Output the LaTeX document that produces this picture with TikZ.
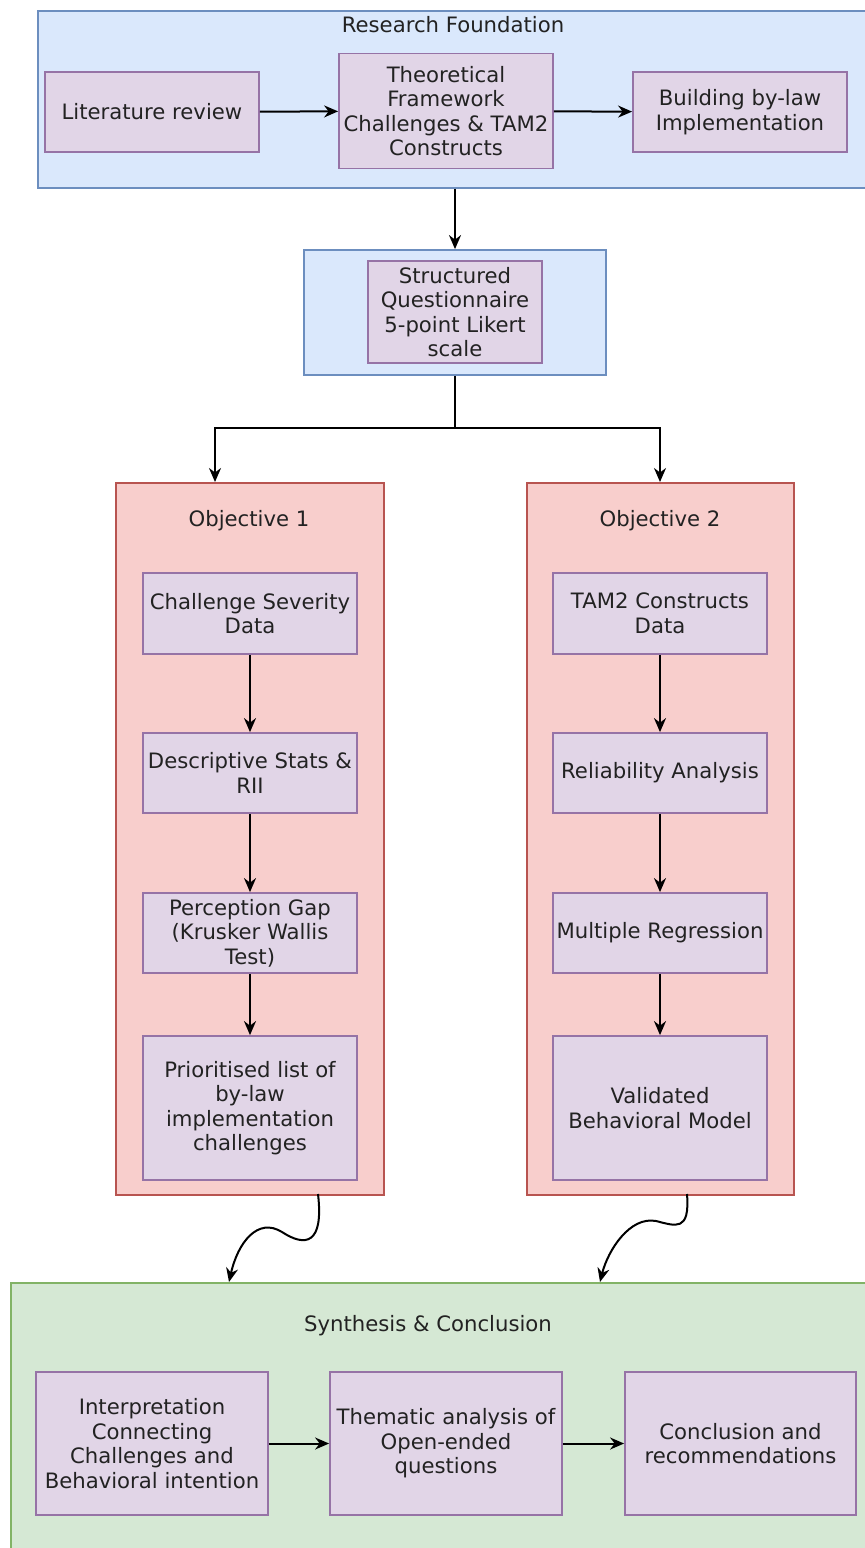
\documentclass[tikz,border=0pt]{standalone}
\usepackage{fontspec}
\setmainfont{DejaVu Sans}
\usetikzlibrary{arrows.meta}
\definecolor{bluefill}{HTML}{DAE8FC}
\definecolor{bluedraw}{HTML}{6C8EBF}
\definecolor{purpfill}{HTML}{E1D5E7}
\definecolor{purpdraw}{HTML}{9673A6}
\definecolor{redfill}{HTML}{F8CECC}
\definecolor{reddraw}{HTML}{B85450}
\definecolor{greenfill}{HTML}{D5E8D4}
\definecolor{greendraw}{HTML}{82B366}
\definecolor{txt}{HTML}{222222}
\tikzset{
  groupbox/.style={draw, line width=1.8pt, inner sep=0pt, rectangle},
  bluegroup/.style={groupbox, fill=bluefill, draw=bluedraw},
  redgroup/.style={groupbox, fill=redfill, draw=reddraw},
  greengroup/.style={groupbox, fill=greenfill, draw=greendraw},
  stepbox/.style={draw=purpdraw, fill=purpfill, line width=1.8pt, rectangle,
    inner sep=0pt, align=center, font=\fontsize{21.2}{24.5}\selectfont, text=txt},
  grouptitle/.style={font=\fontsize{21.2}{24.5}\selectfont, text=txt, inner sep=0pt},
  conn/.style={line width=2pt, -{Stealth[length=14pt,width=12pt]}},
  plain/.style={line width=2pt}
}
\begin{document}
\begin{tikzpicture}[x=1pt,y=-1pt]
\useasboundingbox (0,0) rectangle (865,1548);
\clip (0,0) rectangle (865,1548);

% ---- Research foundation ----
\node[bluegroup, minimum width=840, minimum height=177, anchor=north west] (found) at (37,10) {};
\node[grouptitle] (foundT) at (453,25) {Research Foundation};
\node[stepbox, minimum width=214, minimum height=80] (lit) at (152,112) {Literature review};
\node[stepbox, minimum width=214, minimum height=115] (theo) at (446,111) {Theoretical\\Framework\\Challenges \& TAM2\\Constructs};
\node[stepbox, minimum width=214, minimum height=80] (bylaw) at (740,112) {Building by-law\\Implementation};
\draw[conn] (lit) -- (theo);
\draw[conn] (theo) -- (bylaw);

% ---- Questionnaire ----
\node[bluegroup, minimum width=302, minimum height=125] (quest) at (455,312.5) {};
\node[stepbox, minimum width=174, minimum height=102] (questI) at (455,312) {Structured\\Questionnaire\\5-point Likert\\scale};
\draw[conn] (found.south -| quest.north) -- (quest.north);

% ---- Objectives ----
\node[redgroup, minimum width=268, minimum height=712, anchor=north] (obj1) at (250,482) {};
\node[redgroup, minimum width=267, minimum height=712, anchor=north] (obj2) at (660.5,482) {};
\node[grouptitle] (obj1T) at (249,521) {Objective 1};
\node[grouptitle] (obj2T) at (660,521) {Objective 2};

\coordinate (split) at (455,428);
\coordinate (in1) at (215,482);
\coordinate (in2) at (660,482);
\draw[plain] (quest.south) -- (split);
\draw[conn] (split) -| (in1);
\draw[conn] (split) -| (in2);

% Objective 1 chain
\node[stepbox, minimum width=214, minimum height=81] (a1) at (250,613.5) {Challenge Severity\\Data};
\node[stepbox, minimum width=214, minimum height=80] (a2) at (250,773) {Descriptive Stats \&\\RII};
\node[stepbox, minimum width=214, minimum height=80] (a3) at (250,933) {Perception Gap\\(Krusker Wallis\\Test)};
\node[stepbox, minimum width=214, minimum height=144] (a4) at (250,1108) {Prioritised list of\\by-law\\implementation\\challenges};
\draw[conn] (a1) -- (a2);
\draw[conn] (a2) -- (a3);
\draw[conn] (a3) -- (a4);

% Objective 2 chain
\node[stepbox, minimum width=214, minimum height=81] (b1) at (660,613.5) {TAM2 Constructs\\Data};
\node[stepbox, minimum width=214, minimum height=80] (b2) at (660,773) {Reliability Analysis};
\node[stepbox, minimum width=214, minimum height=80] (b3) at (660,933) {Multiple Regression};
\node[stepbox, minimum width=214, minimum height=144] (b4) at (660,1108) {Validated\\Behavioral Model};
\draw[conn] (b1) -- (b2);
\draw[conn] (b2) -- (b3);
\draw[conn] (b3) -- (b4);

% ---- Synthesis ----
\node[greengroup, minimum width=870, minimum height=280, anchor=north west] (synth) at (10,1282) {};
\node[grouptitle] (synthT) at (428,1326) {Synthesis \& Conclusion};
\node[stepbox, minimum width=232, minimum height=143] (c1) at (152,1443.5) {Interpretation\\Connecting\\Challenges and\\Behavioral intention};
\node[stepbox, minimum width=232, minimum height=143] (c2) at (446,1443.5) {Thematic analysis of\\Open-ended\\questions};
\node[stepbox, minimum width=231, minimum height=143] (c3) at (740.5,1443.5) {Conclusion and\\recommendations};
\draw[conn] (c1) -- (c2);
\draw[conn] (c2) -- (c3);

% curved links from the objectives into the synthesis
\coordinate (s1) at (318,1194);
\coordinate (s2) at (687,1194);
\coordinate (e1) at (229,1282);
\coordinate (e2) at (600,1282);
\draw[conn] (s1) .. controls (324,1245) and (305,1247) .. (282,1232)
  .. controls (258,1217) and (238,1242) .. (e1);
\draw[conn] (s2) .. controls (690,1232) and (676,1226) .. (656,1221)
  .. controls (630,1216) and (608,1250) .. (e2);
\end{tikzpicture}
\end{document}
